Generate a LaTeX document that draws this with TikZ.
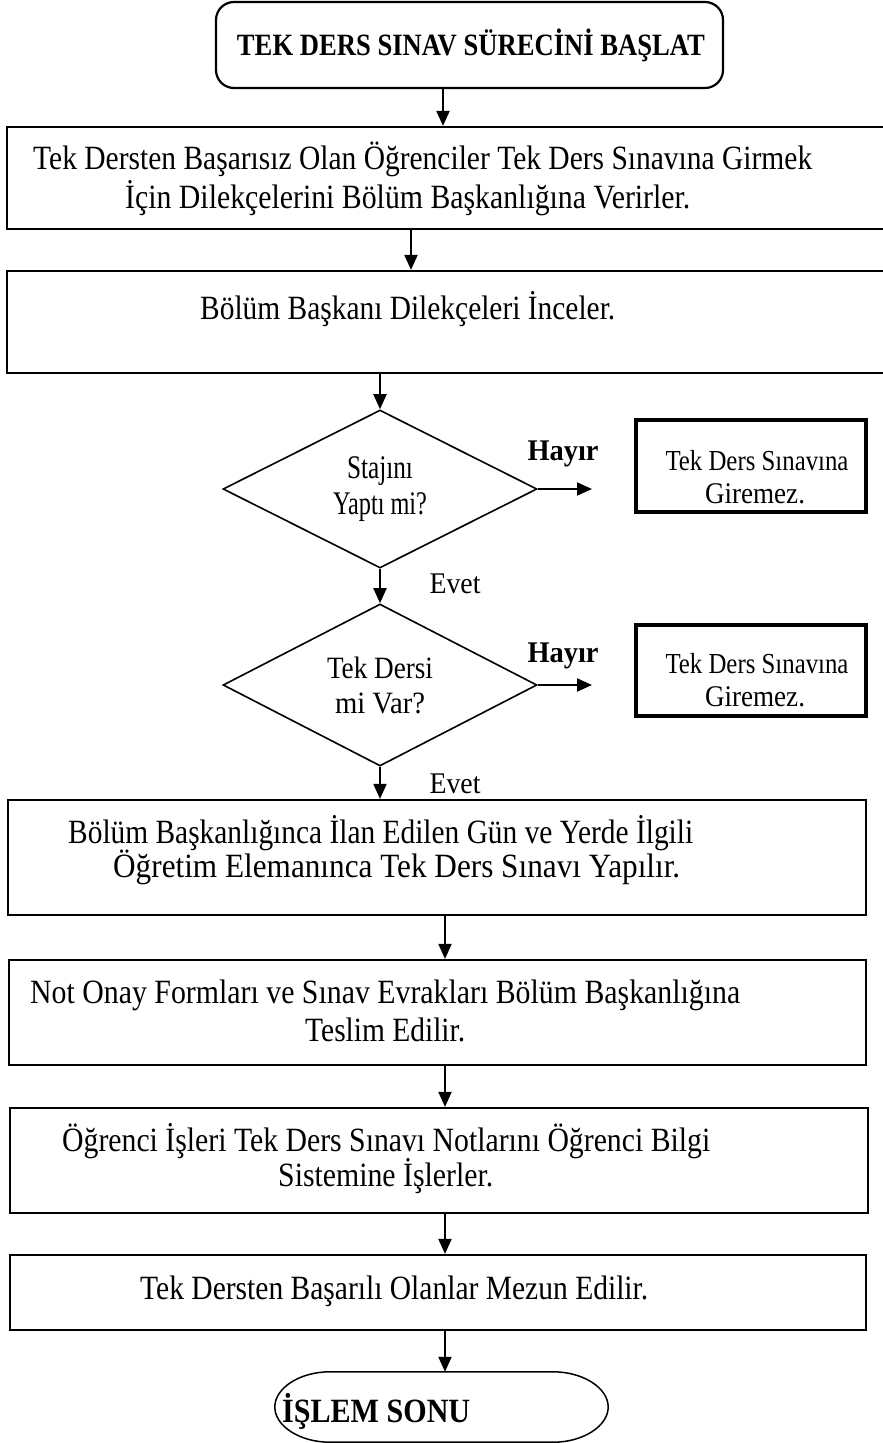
\documentclass[tikz,border=0pt]{standalone}
\usepackage{fontspec}
\setmainfont{Liberation Serif}
\usepackage{graphicx}
\usetikzlibrary{shapes.geometric,arrows.meta,fit,calc}

% squeeze or stretch a line to a given width, keeping its height
\newcommand{\fitto}[2]{\resizebox{#1pt}{\height}{#2}}
\newcommand{\fs}[2]{\fontsize{#1}{#2}\selectfont}

\begin{document}
\begin{tikzpicture}[x=1pt,y=-1pt,
  frame/.style={draw, line width=2.2pt, inner sep=0pt},
  heavyframe/.style={draw, line width=3.6pt, inner sep=0pt},
  decision/.style={draw, diamond, aspect=2, line width=1.6pt, inner sep=0pt, align=center},
  txt/.style={anchor=base west, inner sep=0pt, font=\fs{34}{38}},
  ctxt/.style={anchor=base, inner sep=0pt, font=\fs{30}{34}},
  arr/.style={line width=2pt, -{Triangle[length=15pt,width=13pt]}},
]
\useasboundingbox (0,0) rectangle (883,1443);
\clip (0,0) rectangle (883,1443);

% start
\node[frame, rounded corners=18pt, fit={(216,2) (723,88)}] (start) {};
\node[ctxt, font=\bfseries\fs{31}{34}] (starttxt) at (471,55) {\fitto{468}{TEK DERS SINAV SÜRECİNİ BAŞLAT}};

% petitions
\node[frame, fit={(7,127) (892,229)}] (b1) {};
\node[txt] (b1a) at (33,169) {\fitto{779}{Tek Dersten Başarısız Olan Öğrenciler Tek Ders Sınavına Girmek}};
\node[txt] (b1b) at (125,208) {\fitto{565}{İçin Dilekçelerini Bölüm Başkanlığına Verirler.}};

% review
\node[frame, fit={(7,271) (892,373)}] (b2) {};
\node[txt] (b2a) at (200,319) {\fitto{415}{Bölüm Başkanı Dilekçeleri İnceler.}};

% decisions
\node[decision, minimum width=314pt, minimum height=158pt, font=\fs{33}{36}] (d1) at (380,489)
  {\fitto{66}{Stajını}\\\fitto{94}{Yaptı mi?}};
\node[decision, minimum width=314pt, minimum height=162pt, font=\fs{31}{35}] (d2) at (380,685)
  {\fitto{106}{Tek Dersi}\\\fitto{90}{mi Var?}};

% rejections
\node[heavyframe, fit={(636,420) (866,512)}] (r1) {};
\node[ctxt, font=\fs{29}{30}] (r1a) at (757,470) {\fitto{183}{Tek Ders Sınavına}};
\node[ctxt, font=\fs{30}{30}] (r1b) at (755,503) {\fitto{100}{Giremez.}};
\node[heavyframe, fit={(636,625) (866,716)}] (r2) {};
\node[ctxt, font=\fs{29}{30}] (r2a) at (757,673) {\fitto{183}{Tek Ders Sınavına}};
\node[ctxt, font=\fs{30}{30}] (r2b) at (755,706) {\fitto{100}{Giremez.}};

% labels on branches
\node[ctxt, font=\bfseries\fs{30}{34}] (h1lbl) at (563,460) {\fitto{71}{Hayır}};
\node[ctxt, font=\bfseries\fs{30}{34}] (h2lbl) at (563,662) {\fitto{71}{Hayır}};
\node[ctxt] (e1lbl) at (455,593) {\fitto{51}{Evet}};
\node[ctxt] (e2lbl) at (455,793) {\fitto{51}{Evet}};

% exam and after
\node[frame, fit={(8,800) (866,915)}] (b3) {};
\node[txt] (b3a) at (68,843) {\fitto{625}{Bölüm Başkanlığınca İlan Edilen Gün ve Yerde İlgili}};
\node[txt] (b3b) at (113,877) {\fitto{567}{Öğretim Elemanınca Tek Ders Sınavı Yapılır.}};

\node[frame, fit={(9,960) (866,1065)}] (b4) {};
\node[txt] (b4a) at (30,1003) {\fitto{710}{Not Onay Formları ve Sınav Evrakları Bölüm Başkanlığına}};
\node[txt] (b4b) at (305,1041) {\fitto{160}{Teslim Edilir.}};

\node[frame, fit={(10,1108) (868,1213)}] (b5) {};
\node[txt] (b5a) at (62,1151) {\fitto{648}{Öğrenci İşleri Tek Ders Sınavı Notlarını Öğrenci Bilgi}};
\node[txt] (b5b) at (278,1186) {\fitto{215}{Sistemine İşlerler.}};

\node[frame, fit={(10,1255) (866,1330)}] (b6) {};
\node[txt] (b6a) at (140,1299) {\fitto{508}{Tek Dersten Başarılı Olanlar Mezun Edilir.}};

% end terminal
\node[inner sep=0pt, fit={(275,1372) (608,1442)}] (end) {};
\draw[line width=1.5pt]
  ($(end.north west)+(55,0)$) -- ($(end.north east)+(-55,0)$)
  .. controls ($(end.north east)+(-25,0)$) and ($(end.east)+(0,-19)$) .. (end.east)
  .. controls ($(end.east)+(0,19)$) and ($(end.south east)+(-25,0)$) .. ($(end.south east)+(-55,0)$)
  -- ($(end.south west)+(55,0)$)
  .. controls ($(end.south west)+(25,0)$) and ($(end.west)+(0,19)$) .. (end.west)
  .. controls ($(end.west)+(0,-19)$) and ($(end.north west)+(25,0)$) .. cycle;
\node[anchor=base west, inner sep=0pt, font=\bfseries\fs{34}{38}] (endtxt) at (282,1422) {\fitto{188}{İŞLEM SONU}};

% connectors
\coordinate (xa) at (443,0);
\coordinate (xb) at (411,0);
\coordinate (xc) at (445,0);
\coordinate (n1) at (592,489);
\coordinate (n2) at (592,685);
\draw[arr] (start.south -| xa) -- (b1.north -| xa);
\draw[arr] (b1.south -| xb) -- (b2.north -| xb);
\draw[arr] (b2.south -| d1.north) -- (d1.north);
\draw[arr] (d1.east) -- (n1);
\draw[arr] (d1.south) -- (d2.north);
\draw[arr] (d2.east) -- (n2);
\draw[arr] (d2.south) -- (b3.north -| d2.south);
\draw[arr] (b3.south -| xc) -- (b4.north -| xc);
\draw[arr] (b4.south -| xc) -- (b5.north -| xc);
\draw[arr] (b5.south -| xc) -- (b6.north -| xc);
\draw[arr] (b6.south -| xc) -- (end.north -| xc);
\end{tikzpicture}
\end{document}
